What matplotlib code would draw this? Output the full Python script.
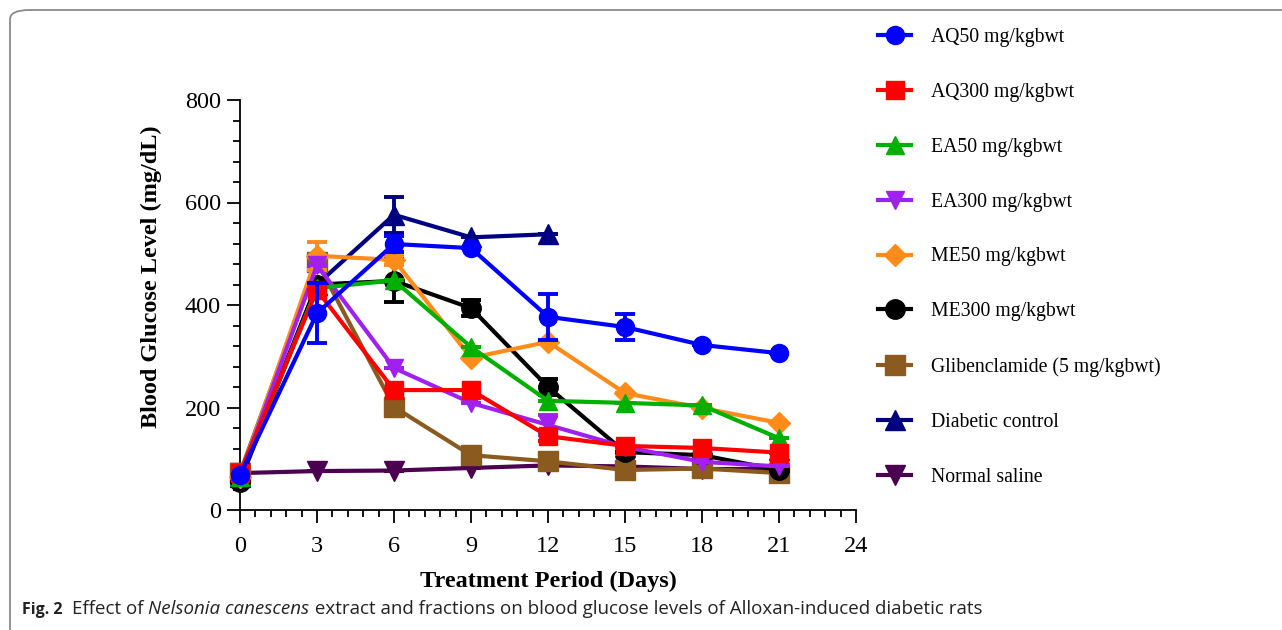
import matplotlib
matplotlib.use("Agg")
import matplotlib.pyplot as plt
import numpy as np
from matplotlib.ticker import MultipleLocator
from matplotlib.patches import FancyBboxPatch

days = [0, 3, 6, 9, 12, 15, 18, 21]
days_dc = [0, 3, 6, 9, 12]

labels = ["AQ50 mg/kgbwt", "AQ300 mg/kgbwt", "EA50 mg/kgbwt", "EA300 mg/kgbwt",
          "ME50 mg/kgbwt", "ME300 mg/kgbwt", "Glibenclamide (5 mg/kgbwt)",
          "Diabetic control", "Normal saline"]

aq50 = [68, 384, 519, 511, 377, 357, 322, 306]
aq50_err = [0, 58, 15, 0, 45, 25, 0, 0]
aq300 = [72, 429, 234, 234, 144, 125, 121, 112]
aq300_err = [0, 0, 0, 0, 10, 0, 0, 0]
ea50 = [65, 433, 448, 318, 213, 209, 204, 140]
ea50_err = [0, 0, 0, 0, 0, 0, 0, 0]
ea300 = [65, 478, 277, 209, 166, 123, 94, 85]
ea300_err = [0, 0, 0, 0, 20, 0, 0, 0]
me50 = [65, 496, 488, 297, 328, 228, 199, 170]
me50_err = [0, 27, 10, 0, 0, 0, 0, 0]
me300 = [55, 440, 447, 394, 240, 113, 107, 78]
me300_err = [0, 0, 42, 15, 15, 0, 0, 0]
glib = [72, 484, 201, 107, 95, 78, 81, 72]
glib_err = [0, 10, 0, 0, 0, 0, 0, 0]
diab = [65, 440, 576, 532, 538]
diab_err = [0, 0, 35, 0, 0]
saline = [72, 76, 77, 82, 87, 85, 80, 80]
saline_err = [0, 0, 0, 0, 0, 0, 0, 0]

colors = ["#0000FF", "#FF0000", "#00B000", "#A020F0", "#FF8C1A", "#000000",
          "#8B5A1E", "#000080", "#4B0050"]
markers = ["o", "s", "^", "v", "D", "o", "s", "^", "v"]
msizes = [13, 13, 13, 13, 11, 14, 14, 14, 14]

series = [(days, aq50, aq50_err), (days, aq300, aq300_err), (days, ea50, ea50_err),
          (days, ea300, ea300_err), (days, me50, me50_err), (days, me300, me300_err),
          (days, glib, glib_err), (days_dc, diab, diab_err), (days, saline, saline_err)]

W, H = 1282, 630
fig = plt.figure(figsize=(W / 100, H / 100), dpi=100)
plt.rcParams['font.family'] = ['Liberation Serif', 'DejaVu Serif']

# rounded border
border = FancyBboxPatch((10 / W, -30 / H), 1300 / W, (H - 10 + 30) / H,
                        boxstyle="round,pad=0,rounding_size=0.015",
                        transform=fig.transFigure, fill=False, edgecolor="#8a8a8a",
                        linewidth=1.3, clip_on=False)
fig.patches.append(border)

ax = fig.add_axes([240 / W, 1 - 510 / H, (856 - 240) / W, (510 - 100) / H])
handles = []
n = len(series)
for i, ((x, y, e), c, m, ms, lab) in enumerate(zip(series, colors, markers, msizes, labels)):
    z = 10 + (n - i)
    yerr = np.array(e, dtype=float)
    ax.errorbar(x, y, yerr=yerr, fmt='none', ecolor=c, elinewidth=2.8, capsize=7.5,
                capthick=2.8, zorder=z)
    h, = ax.plot(x, y, color=c, marker=m, markersize=ms, linewidth=3, label=lab,
                 zorder=z, clip_on=False)
    handles.append(h)

ax.set_xlim(0, 24)
ax.set_ylim(0, 800)
ax.set_xticks(range(0, 25, 3))
ax.set_yticks(range(0, 801, 200))
ax.xaxis.set_minor_locator(MultipleLocator(0.6))
ax.yaxis.set_minor_locator(MultipleLocator(40))
for s in ["top", "right"]:
    ax.spines[s].set_visible(False)
for s in ["left", "bottom"]:
    ax.spines[s].set_linewidth(1.3)
ax.tick_params(axis='both', which='major', length=9.5, width=1.3, labelsize=17.5, pad=4.3)
ax.tick_params(axis='x', which='major', pad=9.5)
ax.tick_params(axis='both', which='minor', length=5, width=1.3)
ax.set_xlabel("Treatment Period (Days)", fontsize=17.5, fontweight='bold', labelpad=10)
ax.set_ylabel("Blood Glucose Level (mg/dL)", fontsize=17.5, fontweight='bold')
ax.yaxis.set_label_coords(-(240 - 162) / (856 - 240), (510 - 277) / 410)

leg = fig.legend(handles=handles, loc='upper left', bbox_to_anchor=(870 / W, 1 - 20 / H),
                 frameon=False, fontsize=14.2, handlelength=1.7, handletextpad=1.0,
                 labelspacing=1.82, borderaxespad=0)

# caption
cap_font = ['Open Sans', 'DejaVu Sans']
fig.canvas.draw()
r = fig.canvas.get_renderer()
yb = 1 - 614 / H
pieces = [("Fig. 2", 'bold', 'normal', 11.5, 22),
          ("Effect of ", 'normal', 'normal', 13.5, 72),
          ("Nelsonia canescens", 'normal', 'italic', 13.5, None),
          (" extract and fractions on blood glucose levels of Alloxan-induced diabetic rats",
           'normal', 'normal', 13.5, None)]
x0 = 0
for txt, wgt, sty, fs, xpix in pieces:
    if xpix is not None:
        x0 = xpix / W
    t = fig.text(x0, yb, txt, fontsize=fs, fontweight=wgt, fontstyle=sty,
                 family=cap_font, ha='left', va='baseline', color='#222222')
    bb = t.get_window_extent(renderer=r)
    x0 += bb.width / W

fig.savefig("out.png", dpi=100)
